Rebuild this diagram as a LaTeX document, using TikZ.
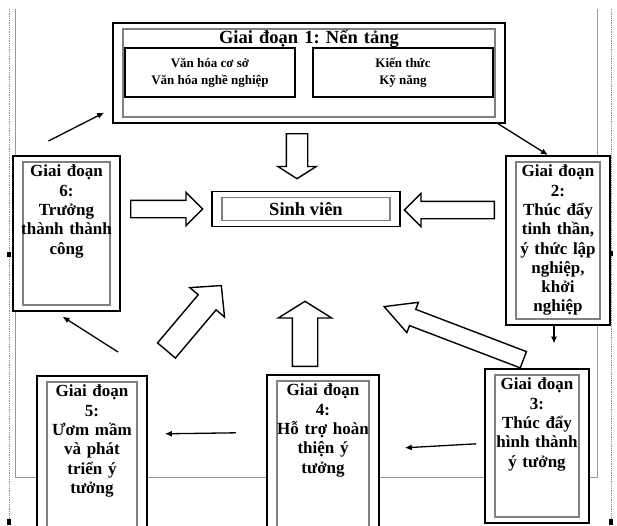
\documentclass[tikz,border=0pt]{standalone}
\usepackage{fontspec}
\setmainfont{Liberation Serif}
\frenchspacing
\usetikzlibrary{shapes.arrows,arrows.meta}
\tikzstyle{frame}=[draw,line width=1.6pt,fill=white,
  path picture={\draw[black!50,line width=1.4pt]
    ([shift={(10pt,-6pt)}]path picture bounding box.north west) rectangle
    ([shift={(-10pt,6pt)}]path picture bounding box.south east);}]
\tikzstyle{stage}=[frame,anchor=north,align=center,inner xsep=3pt,inner ysep=8pt,
  text height=13pt,font=\fontsize{17}{19.3}\selectfont\bfseries]
\tikzstyle{part}=[draw,line width=1.6pt,align=center,font=\fontsize{13}{17}\selectfont\bfseries]
\tikzstyle{flow}=[draw,line width=1.3pt,-{Latex[length=7pt,width=6pt]}]
\tikzstyle{bigarrow}=[single arrow,draw,line width=1.4pt,fill=white,inner xsep=0pt,
  minimum width=0pt,single arrow head indent=0pt,anchor=tail]
\begin{document}
\begin{tikzpicture}[x=1pt,y=-1pt]
\useasboundingbox (0,0) rectangle (617,525);
\clip (0,0) rectangle (617,525);

% % % page frame
\draw[black!40,line width=1pt] (15,9) -- (15,477) -- (597,477) -- (597,9);
\draw[black!45,densely dotted,line width=0.8pt] (9,9) -- (9,525);
\draw[black!45,densely dotted,line width=0.8pt] (611,9) -- (611,525);
\fill (7,252) rectangle (11,257);
\fill (609,251) rectangle (613,256);
\fill (7,519) rectangle (11,525);
\fill (310,519) rectangle (314,525);
\fill (609,519) rectangle (613,525);

% % % stage 1
\node[stage,font=\fontsize{18.5}{20}\selectfont\bfseries,text width=386pt,text depth=71pt]
  (s1) at (309,22) {Giai đoạn 1: Nến tảng};
\node[part,minimum width=170pt,minimum height=49pt] (s1a) at (210,72.5)
  {Văn hóa cơ sở\\Văn hóa nghề nghiệp};
\node[part,minimum width=180pt,minimum height=49pt] (s1b) at (403,72.5)
  {Kiến thức\\Kỹ năng};

% % % centre
\node[frame,minimum width=188pt,minimum height=35pt,inner sep=0pt,
  font=\fontsize{18.5}{20}\selectfont\bfseries] (sv) at (306,209) {Sinh viên};

% % % stages 2--6
\node[stage,text width=98pt,text depth=140pt] (s2) at (558,155)
  {Giai đoạn\\2:\\Thúc đẩy\\tinh thần,\\ý thức lập\\nghiệp,\\khởi\\nghiệp};
\node[stage,text width=98pt,text depth=125pt] (s3) at (537,368)
  {Giai đoạn\\3:\\Thúc đẩy\\hình thành\\ý tưởng};
\node[stage,text width=106pt,text depth=131pt] (s4) at (323,374)
  {Giai đoạn\\4:\\Hỗ trợ hoàn\\thiện ý\\tưởng};
\node[stage,text width=104pt,text depth=131pt] (s5) at (92,375)
  {Giai đoạn\\5:\\Ươm mầm\\và phát\\triển ý\\tưởng};
\node[stage,text width=101pt,text depth=126pt] (s6) at (66.5,155)
  {Giai đoạn\\6:\\Trưởng\\thành thành\\công};

% % % cycle
\path[flow] ([xshift=-18pt,yshift=14pt]s6.north) -- ([xshift=-8pt,yshift=11pt]s1.south west);
\path[flow] ([xshift=-8pt]s1.south east) -- ([xshift=-10pt]s2.north);
\path[flow] ([xshift=-4pt]s2.south) -- ++(0,18);
\path[flow] ([xshift=-8pt,yshift=2pt]s3.west) -- ([xshift=25pt,yshift=7pt]s4.east);
\path[flow] ([xshift=-30pt,yshift=22pt]s4.west) -- ([xshift=17pt,yshift=22pt]s5.east);
\path[flow] ([xshift=26pt,yshift=23pt]s5.north) -- ([xshift=-4pt,yshift=-5pt]s6.south);

% % % towards the student
\node[bigarrow,rotate=-90,minimum height=45pt,inner ysep=10pt,
  single arrow head extend=8.5pt,single arrow tip angle=115] (b1) at (297,133) {};
\node[bigarrow,minimum height=72pt,inner ysep=8pt,
  single arrow head extend=8pt,single arrow tip angle=90] (b6) at (130,209) {};
\node[bigarrow,rotate=180,minimum height=90pt,inner ysep=8pt,
  single arrow head extend=8pt,single arrow tip angle=90] (b2) at (495,210) {};
\node[bigarrow,rotate=90,minimum height=65pt,inner ysep=12pt,
  single arrow head extend=14pt,single arrow tip angle=116] (b4) at (305,367) {};
\node[bigarrow,rotate=49.8,minimum height=85pt,inner ysep=11pt,
  single arrow head extend=11pt,single arrow tip angle=92] (b5) at (166,351) {};
\node[bigarrow,rotate=159.1,minimum height=149pt,inner ysep=8pt,
  single arrow head extend=7.5pt,single arrow tip angle=56] (b3) at (524,360) {};
\end{tikzpicture}
\end{document}
